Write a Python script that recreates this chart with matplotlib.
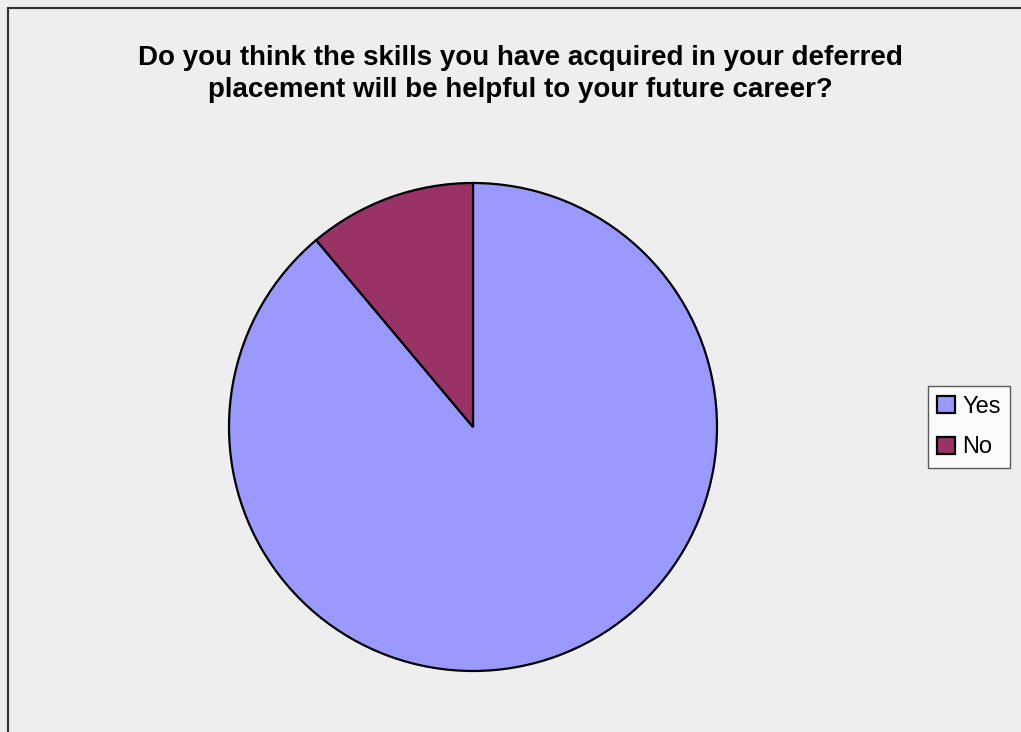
import matplotlib
matplotlib.use("Agg")
import matplotlib.pyplot as plt
from matplotlib.patches import Rectangle, Patch

labels = ["Yes", "No"]
values = [8, 1]
colors = ["#9999FF", "#993366"]
title = ("Do you think the skills you have acquired in your deferred\n"
         "placement will be helpful to your future career?")

W, H = 1021, 732
fig = plt.figure(figsize=(W / 100, H / 100), dpi=100)
fig.patch.set_facecolor("#EEEEEE")
plt.rcParams["font.family"] = ["Liberation Sans", "DejaVu Sans"]

# chart area border (open towards right/bottom edges)
fig.add_artist(Rectangle((8 / W, -0.02), 1.05, 1 - 8 / H + 0.02,
                         transform=fig.transFigure, fill=False,
                         edgecolor="#333333", linewidth=1.5))

fig.text(520 / W, 1 - 74 / H, title, ha="center", va="center",
         fontsize=20, fontweight="bold", linespacing=1.28)

cx, cy, r = 473, 427, 244
ax = fig.add_axes([(cx - r) / W, (H - cy - r) / H, 2 * r / W, 2 * r / H])
ax.pie(values, colors=colors, startangle=90, counterclock=False,
       wedgeprops=dict(edgecolor="black", linewidth=1.6))
ax.set_xlim(-1, 1)
ax.set_ylim(-1, 1)
ax.set_aspect("equal")
ax.axis("off")

handles = [Patch(facecolor=c, edgecolor="black", linewidth=1.6) for c in colors]
leg = fig.legend(handles, labels, loc="center left",
                 bbox_to_anchor=(928 / W, 1 - 427 / H), frameon=True,
                 fontsize=17, handlelength=0.75, handleheight=0.75,
                 handletextpad=0.3, borderpad=0.4, labelspacing=0.8,
                 borderaxespad=0, fancybox=False)
leg.get_frame().set_edgecolor("#333333")
leg.get_frame().set_linewidth(1.0)

fig.savefig("out.png", dpi=100, facecolor=fig.get_facecolor())
